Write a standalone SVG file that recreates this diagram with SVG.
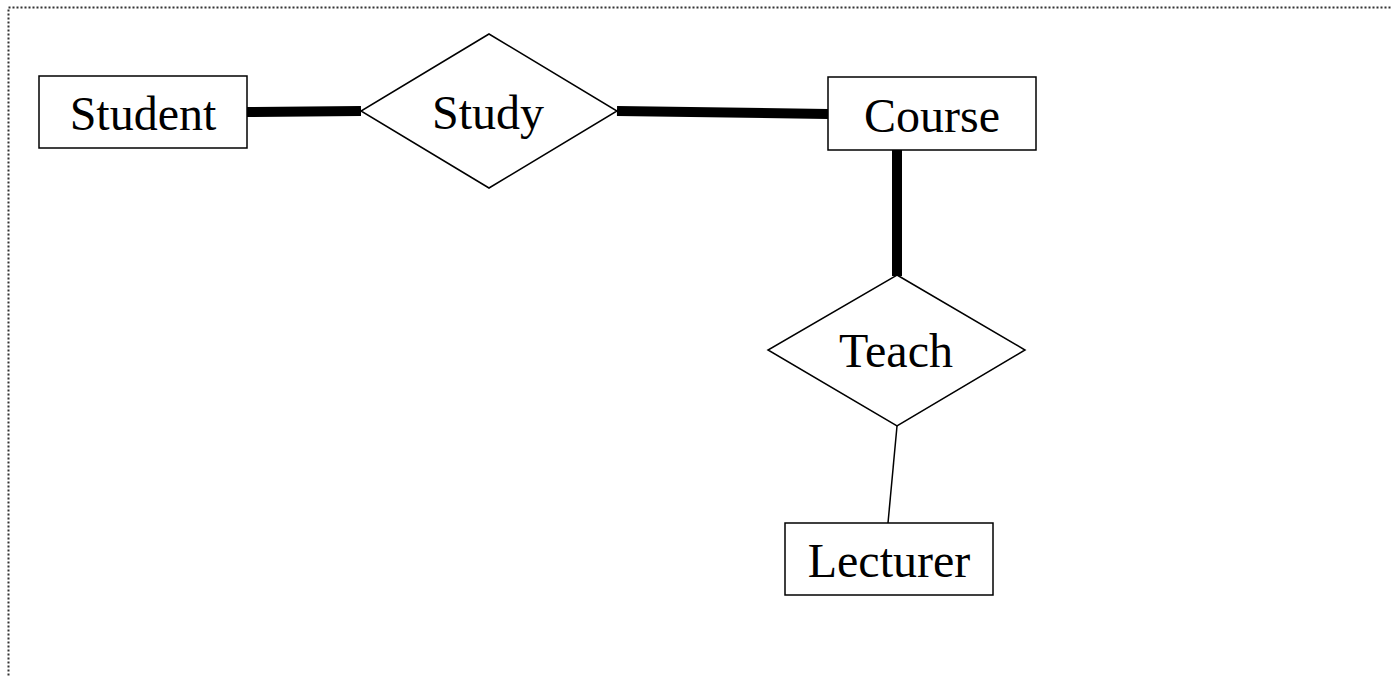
<svg xmlns="http://www.w3.org/2000/svg" width="1392" height="677" viewBox="0 0 1392 677">
  <style>
    .entity { fill: #fff; stroke: #000; stroke-width: 1.5; }
    .relation { fill: #fff; stroke: #000; stroke-width: 1.5; stroke-linejoin: miter; }
    .label { font-family: "Liberation Serif", "Times New Roman", serif; font-size: 48px; fill: #000; text-anchor: middle; }
    .total { stroke: #000; stroke-width: 10; fill: none; }
    .partial { stroke: #000; stroke-width: 1.5; fill: none; }
    .frame { fill: none; stroke: #333; stroke-width: 2; stroke-dasharray: 2 2; }
  </style>
  <rect width="1392" height="677" fill="#fff"/>
  <!-- page frame -->
  <rect class="frame" x="8.5" y="7.5" width="1400" height="700"/>

  <g id="connectors">
    <line class="total" x1="247" y1="112" x2="361" y2="111"/>
    <line class="total" x1="617" y1="111" x2="828" y2="114"/>
    <line class="total" x1="897" y1="148" x2="897" y2="276"/>
    <line class="partial" x1="897" y1="426" x2="888" y2="523"/>
  </g>

  <g id="student">
    <rect class="entity" x="39" y="76" width="208" height="72"/>
    <text class="label" x="143" y="130">Student</text>
  </g>

  <g id="study">
    <polygon class="relation" points="489,34 617,111 489,188 361,111"/>
    <text class="label" x="488" y="129">Study</text>
  </g>

  <g id="course">
    <rect class="entity" x="828" y="77" width="208" height="73"/>
    <text class="label" x="932" y="132">Course</text>
  </g>

  <g id="teach">
    <polygon class="relation" points="897,275 1025,350 897,426 768,350"/>
    <text class="label" x="896" y="367">Teach</text>
  </g>

  <g id="lecturer">
    <rect class="entity" x="785" y="523" width="208" height="72"/>
    <text class="label" x="889" y="577">Lecturer</text>
  </g>
</svg>
